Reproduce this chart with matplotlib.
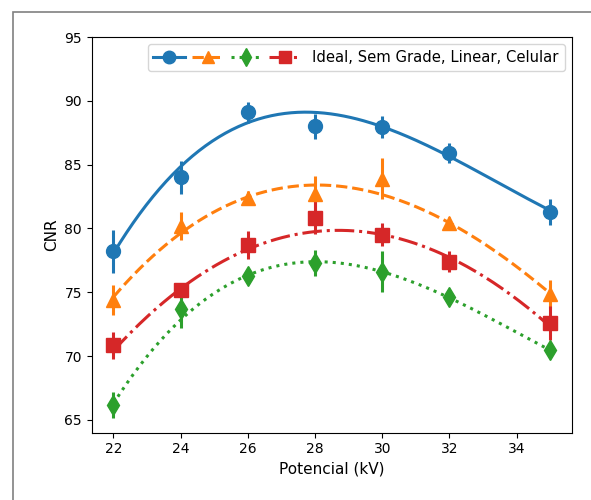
import matplotlib
matplotlib.use("Agg")
import matplotlib.pyplot as plt
import numpy as np
from matplotlib.lines import Line2D
from matplotlib.legend_handler import HandlerTuple
from matplotlib.patches import Rectangle

# Potencial (kV)
kv = [22, 24, 26, 28, 30, 32, 35]

ideal = [78.2, 84.0, 89.1, 88.0, 87.95, 85.9, 81.3]
ideal_err = [1.7, 1.3, 0.8, 1.0, 0.9, 0.8, 1.0]

sem_grade = [74.4, 80.2, 82.4, 82.7, 83.9, 80.4, 74.9]
sem_grade_err = [1.2, 1.1, 0.5, 1.4, 1.6, 0.5, 1.1]

linear = [66.15, 73.7, 76.25, 77.3, 76.6, 74.6, 70.45]
linear_err = [1.0, 1.5, 0.6, 1.05, 1.6, 0.5, 0.4]

celular = [70.85, 75.2, 78.7, 80.85, 79.5, 77.4, 72.6]
celular_err = [1.05, 0.3, 1.1, 1.3, 0.9, 0.8, 1.3]

series = [
    (ideal, ideal_err, "C0", "o", "-"),
    (sem_grade, sem_grade_err, "C1", "^", "--"),
    (linear, linear_err, "C2", "d", ":"),
    (celular, celular_err, "C3", "s", "-."),
]

fig = plt.figure(figsize=(5.91, 5.0), dpi=100)
ax = fig.add_axes([0.155, 0.1346, 0.813, 0.7914])

xs = np.linspace(min(kv), max(kv), 200)
handles = []
for vals, errs, color, marker, ls in series:
    ax.errorbar(kv, vals, yerr=errs, fmt=marker, color=color, ms=10,
                elinewidth=2.2, capsize=0, zorder=2)
    # weighted cubic fit
    coef = np.polyfit(kv, vals, 3, w=1 / np.asarray(errs))
    ax.plot(xs, np.polyval(coef, xs), ls, color=color, lw=2.2, zorder=3)
    handles.append(Line2D([], [], color=color, marker=marker, ls=ls, lw=2.2, ms=9))

ax.set_ylim(64, 95)
ax.set_xticks([22, 24, 26, 28, 30, 32, 34])
ax.set_yticks([65, 70, 75, 80, 85, 90, 95])
ax.set_xlabel("Potencial (kV)", fontsize=11)
ax.set_ylabel("CNR", fontsize=11)

ax.legend([tuple(handles)], ["Ideal, Sem Grade, Linear, Celular"],
          handler_map={tuple: HandlerTuple(ndivide=None, pad=0.5)},
          handlelength=10, loc="upper right", fontsize=10.6)

# grey frame around the figure (cut at right and bottom edges)
fig.patches.append(Rectangle((13 / 591, -0.1), 1.2, 1.1 - 12 / 500,
                             transform=fig.transFigure, fill=False,
                             edgecolor="#808080", lw=1.2, clip_on=False))

fig.savefig("out.png", dpi=100)
